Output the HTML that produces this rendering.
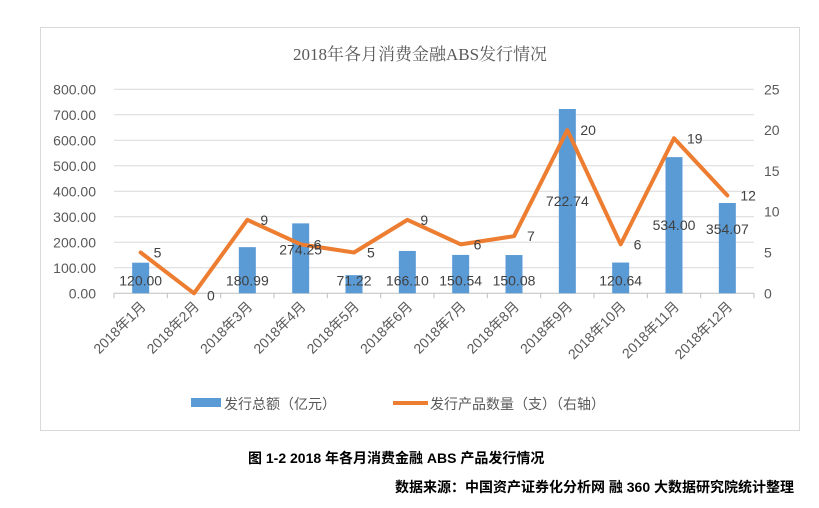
<!DOCTYPE html>
<html><head><meta charset="utf-8"><style>
body{margin:0;background:#fff;width:819px;height:503px;overflow:hidden;font-family:"Liberation Sans","Noto Sans CJK SC",sans-serif;}
</style></head><body>
<svg width="819" height="503" xmlns="http://www.w3.org/2000/svg">
<rect x="40.5" y="27.5" width="759" height="403" fill="#fff" stroke="#d9d9d9"/>
<text x="420" y="60" text-anchor="middle" font-size="17" fill="#595959" font-family="Liberation Serif,Noto Serif CJK SC,serif">2018年各月消费金融ABS发行情况</text>
<g id="grid"></g><g id="bars"></g><g id="line"></g><g id="labels"></g>
<g>
<rect x="191" y="398" width="30" height="9" fill="#5B9BD5"/>
<text x="224" y="409" font-size="14" fill="#595959">发行总额（亿元）</text>
<line x1="393" y1="403" x2="428" y2="403" stroke="#ED7D31" stroke-width="4"/>
<text x="430" y="409" font-size="14" fill="#595959">发行产品数量（支）（右轴）</text>
</g>
<text x="248" y="463" font-size="14" font-weight="bold" fill="#000">图 1-2 2018 年各月消费金融 ABS 产品发行情况</text>
<text x="794" y="492" text-anchor="end" font-size="14" font-weight="bold" fill="#000">数据来源：中国资产证券化分析网 融 360 大数据研究院统计整理</text>
</svg>
<script>
const categories=["2018年1月","2018年2月","2018年3月","2018年4月","2018年5月","2018年6月","2018年7月","2018年8月","2018年9月","2018年10月","2018年11月","2018年12月"];
const amounts=[120.00,0,180.99,274.25,71.22,166.10,150.54,150.08,722.74,120.64,534.00,354.07];
const counts=[5,0,9,6,5,9,6,7,20,6,19,12];
const leftTicks=[0,100,200,300,400,500,600,700,800];
const rightTicks=[0,5,10,15,20,25];
const NS="http://www.w3.org/2000/svg";
const x0=114,x1=754,yTop=89.3,yBot=293.3;
const step=(x1-x0)/categories.length;
const xC=i=>x0+step*(i+0.5);
const yL=v=>yBot-(v/800)*(yBot-yTop);
const yR=v=>yBot-(v/25)*(yBot-yTop);
function mk(tag,attrs,parent,txt){const e=document.createElementNS(NS,tag);for(const k in attrs)e.setAttribute(k,attrs[k]);if(txt!==undefined)e.textContent=txt;document.getElementById(parent).appendChild(e);return e;}
leftTicks.forEach(v=>{
 const g=mk('line',{x1:x0,x2:x1,y1:yL(v),y2:yL(v),stroke:v===0?'#bfbfbf':'#d9d9d9'},'grid');
 
 
 const t=mk('text',{x:96,y:yL(v)+5,'text-anchor':'end','font-size':14,fill:'#595959'},'grid',v.toFixed(2));
 
 
});
rightTicks.forEach(v=>{
 const t=mk('text',{x:764,y:yR(v)+5,'font-size':14,fill:'#595959'},'grid',String(v));
 
 
});
for(let i=0;i<=categories.length;i++){
 const tk=mk('line',{x1:x0+step*i,x2:x0+step*i,y1:yBot,y2:yBot+5,stroke:'#bfbfbf'},'grid');
 
 
}
categories.forEach((c,i)=>{
 const cx=xC(i);
 const t=mk('text',{x:cx+6,y:yBot+14,'text-anchor':'end','font-size':14,fill:'#595959',transform:`rotate(-45 ${cx+6} ${yBot+14})`},'labels',c);
 
 
 const b=mk('rect',{x:cx-8.5,y:yL(amounts[i]),width:17,height:yBot-yL(amounts[i]),fill:'#5B9BD5'},'bars');
 
 
 if(amounts[i]>0){
  const h=yBot-yL(amounts[i]);
  const ly=amounts[i]>400?yL(amounts[i])+h/2+5:Math.min(yL(amounts[i])+h/2+18,yBot-8);
  const bl=mk('text',{x:cx,y:amounts[i]>200&&amounts[i]<400?yL(amounts[i])+31:ly,'text-anchor':'middle','font-size':14,fill:'#404040'},'labels',amounts[i].toFixed(2));
  
  
 }
 const ll=mk('text',{x:cx+13,y:yR(counts[i])+ (i===1?7:5)+(i===1?0:0),'font-size':14,fill:'#404040'},'labels',String(counts[i]));
 
 
});
const p=mk('polyline',{points:counts.map((v,i)=>xC(i)+','+yR(v)).join(' '),fill:'none',stroke:'#ED7D31','stroke-width':4,'stroke-linejoin':'round','stroke-linecap':'round'},'line');


</script>
</body></html>
